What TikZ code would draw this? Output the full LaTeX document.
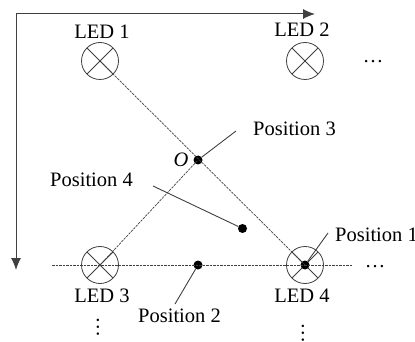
\documentclass[tikz,border=0pt]{standalone}
\usepackage{fontspec}
\setmainfont{Liberation Serif}
\usetikzlibrary{arrows.meta,positioning,calc}
\definecolor{linegray}{HTML}{404040}
\tikzset{
  led/.style={circle,draw=linegray,line width=0.8pt,minimum size=37pt,inner sep=0pt,
    path picture={\draw[linegray,line width=0.8pt] (path picture bounding box.north west)--(path picture bounding box.south east)
      (path picture bounding box.north east)--(path picture bounding box.south west);}},
  spot/.style={circle,fill=black,minimum size=9pt,inner sep=0pt},
  ray/.style={dash pattern=on 2.5pt off 1pt,linegray,line width=0.7pt},
  leader/.style={linegray,line width=0.9pt}
}
\begin{document}
\begin{tikzpicture}[x=1pt,y=-1pt,>={Latex[length=12pt,width=10pt]},every node/.style={font=\fontsize{20.5}{22}\selectfont,align=center}]
\useasboundingbox (0,0) rectangle (415,342);
\coordinate (corner) at (16,14);
\coordinate (xend) at (315,14);
\coordinate (yend) at (16,270);
\coordinate (west) at (52,265);
\coordinate (east) at (352,265);
\node[led] (l1) at (100,61) {};
\node[led] (l2) at (305,61) {};
\node[led] (l3) at (100,265) {};
\node[led] (l4) at (305,265) {};
\node (t1) at (102,32) {LED 1};
\node (t2) at (302,30) {LED 2};
\node (t3) at (102,296) {LED 3};
\node (t4) at (302,296) {LED 4};
\node[spot] (o) at (198,160) {};
\node[spot] (p4) at (242.5,228.5) {};
\node[spot] (p2) at (198,265) {};
\node[spot] (p1) at (305,265) {};
\node (oname) at (181,160) {\textit{O}};
\node[anchor=west,inner sep=0pt] (n3) at (253,129) {Position 3};
\node[anchor=west,inner sep=0pt] (n4) at (50,180) {Position 4};
\node[anchor=west,inner sep=0pt] (n2) at (138,316) {Position 2};
\node[anchor=west,inner sep=0pt] (n1) at (335,235) {Position 1};
\node (d1) at (373,62) {\dots};
\node (d2) at (375,267) {\dots};
\node[rotate=90] (d3) at (98,327) {\dots};
\node[rotate=90] (d4) at (303,333) {\dots};
\coordinate (c3) at (236,131);
\coordinate (c4) at (153,186);
\coordinate (c2) at (175,304);
\coordinate (c1) at (328,233);
\draw[->,linegray,line width=1pt] (corner)--(xend);
\draw[->,linegray,line width=1pt] (corner)--(yend);
\draw[ray] (l1.center)--(p1.center);
\draw[ray] (l3.center)--(o.center);
\draw[ray] (west)--(east);
\draw[leader] (c3)--(o);
\draw[leader] (c4)--(p4);
\draw[leader] (c2)--(p2);
\draw[leader] (c1)--(p1);
\end{tikzpicture}
\end{document}
